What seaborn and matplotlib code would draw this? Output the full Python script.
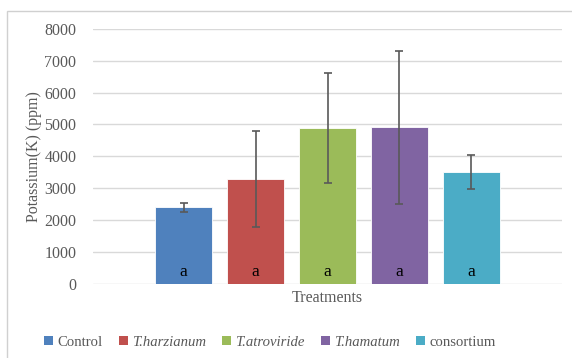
import matplotlib
matplotlib.use("Agg")
import matplotlib.pyplot as plt
from matplotlib.patches import Patch, Rectangle
import seaborn as sns
import pandas as pd

# Potassium content per treatment (mean and standard deviation, ppm)
treatments = ["Control", "T.harzianum", "T.atroviride", "T.hamatum", "consortium"]
potassium = [2400, 3300, 4880, 4910, 3510]
potassium_sd = [130, 1510, 1720, 2390, 540]
letters = ["a", "a", "a", "a", "a"]
italic_names = [False, True, True, True, False]
colors = ["#4F81BD", "#C0504D", "#9BBB59", "#8064A2", "#4BACC6"]
y_ticks = [0, 1000, 2000, 3000, 4000, 5000, 6000, 7000, 8000]

sns.set_theme(style="white")
plt.rcParams["font.family"] = "serif"
plt.rcParams["font.serif"] = ["Liberation Serif", "DejaVu Serif"]

df = pd.DataFrame({"treatment": treatments, "potassium": potassium})

fig = plt.figure(figsize=(5.72, 3.58), dpi=100)
ax = fig.add_axes([93 / 572, 1 - 284 / 358, (562 - 93) / 572, (284 - 28.7) / 358])

grey = "#595959"

# chart area frame
fig.patches.append(Rectangle((7 / 572, -0.1), 1.2, 1 - 10.5 / 358 + 0.1,
                             transform=fig.transFigure, fill=False,
                             edgecolor="#D0D0D0", linewidth=1.0, zorder=0))

sns.barplot(data=df, x="treatment", y="potassium", hue="treatment",
            palette=colors, width=0.79, errorbar=None, legend=False,
            saturation=1, ax=ax, zorder=3)
for bar in ax.patches:
    bar.set_edgecolor("white")
    bar.set_linewidth(0.6)

ax.errorbar(x=range(len(treatments)), y=potassium, yerr=potassium_sd,
            fmt="none", ecolor=grey, elinewidth=1.2, capsize=3,
            capthick=1.2, zorder=4)

for i, lab in enumerate(letters):
    ax.text(i, 370, lab, ha="center", va="center", fontsize=12.5,
            color="#000000", zorder=5)

ax.set_ylim(0, 8000)
ax.set_xlim(-1.26, len(treatments) - 1 + 1.26)
ax.set_yticks(y_ticks)
ax.set_yticklabels([str(v) for v in y_ticks], fontsize=11.5, color=grey)
ax.set_xticks([])
ax.yaxis.grid(True, color="#D9D9D9", linewidth=1.0)
ax.set_axisbelow(True)
ax.tick_params(axis="y", length=0, pad=12)
for s in ax.spines.values():
    s.set_visible(False)

ax.set_xlabel("Treatments", fontsize=11.5, color=grey, labelpad=4)
ax.set_ylabel("Potassium(K) (ppm)", fontsize=11.5, color=grey, labelpad=2)

handles = [Patch(facecolor=c, edgecolor="none") for c in colors]
leg = fig.legend(handles, treatments, loc="center", ncol=5,
                 bbox_to_anchor=(270 / 572, 1 - 342 / 358),
                 frameon=False, fontsize=10.6, handlelength=0.6,
                 handleheight=0.6, handletextpad=0.3, columnspacing=1.1)
for txt, it in zip(leg.get_texts(), italic_names):
    txt.set_color(grey)
    if it:
        txt.set_fontstyle("italic")

fig.savefig("out.png", dpi=100)
